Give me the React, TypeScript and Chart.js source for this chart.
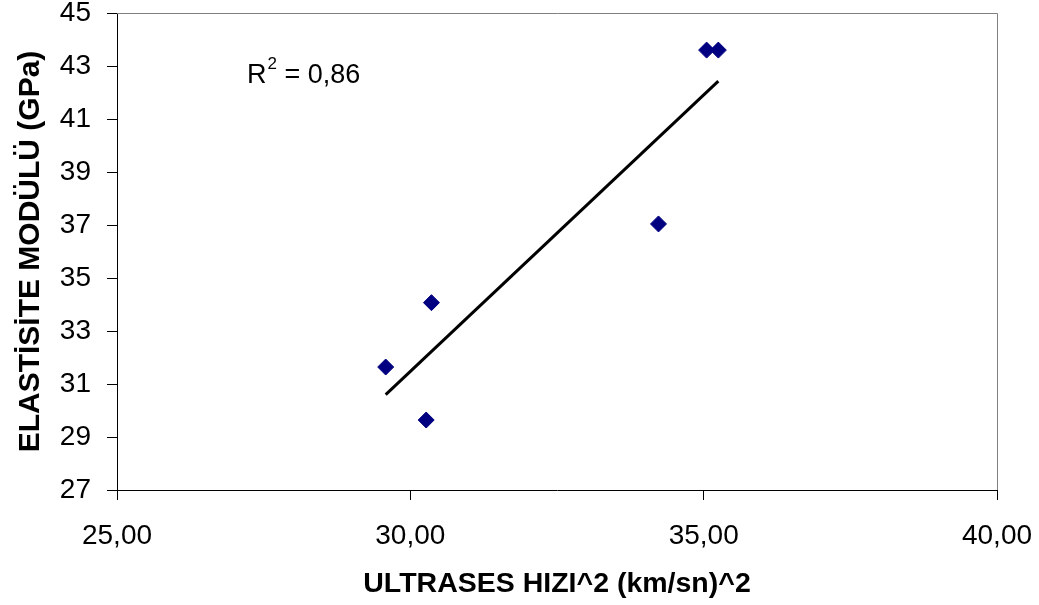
import React, { useEffect, useRef } from "react";
import { Chart, registerables } from "chart.js";

Chart.register(...registerables);

// Measured samples: squared ultrasonic velocity vs. modulus of elasticity
const ultrasesHizi2 = [29.58, 30.27, 30.36, 34.23, 35.05, 35.25];
const elastisiteModulu = [31.64, 29.64, 34.07, 37.04, 43.6, 43.6];

const xTicks = [25, 30, 35, 40];
const yTicks = [27, 29, 31, 33, 35, 37, 39, 41, 43, 45];

const xTitle = "ULTRASES HIZI^2 (km/sn)^2";
const yTitle = "ELASTİSİTE MODÜLÜ (GPa)";

const FONT = "'Liberation Sans', Arial, Helvetica, sans-serif";

// Least-squares fit for the trend line and its R²
function linearFit(xs: number[], ys: number[]) {
  const n = xs.length;
  const mx = xs.reduce((a, b) => a + b, 0) / n;
  const my = ys.reduce((a, b) => a + b, 0) / n;
  let sxy = 0, sxx = 0, syy = 0;
  for (let i = 0; i < n; i++) {
    sxy += (xs[i] - mx) * (ys[i] - my);
    sxx += (xs[i] - mx) ** 2;
    syy += (ys[i] - my) ** 2;
  }
  const slope = sxy / sxx;
  const intercept = my - slope * mx;
  const r2 = (sxy * sxy) / (sxx * syy);
  return { slope, intercept, r2 };
}

const fit = linearFit(ultrasesHizi2, elastisiteModulu);
const xMin = Math.min(...ultrasesHizi2);
const xMax = Math.max(...ultrasesHizi2);
const trendPoints = [
  { x: xMin, y: fit.slope * xMin + fit.intercept },
  { x: xMax, y: fit.slope * xMax + fit.intercept },
];
const r2Text = " = " + fit.r2.toFixed(2).replace(".", ",");

// Grey frame on the top and right of the plot area
const framePlugin = {
  id: "plotFrame",
  beforeDatasetsDraw(chart: any) {
    const { ctx, chartArea } = chart;
    ctx.save();
    ctx.strokeStyle = "#808080";
    ctx.lineWidth = 1;
    ctx.beginPath();
    ctx.moveTo(chartArea.left, chartArea.top + 0.5);
    ctx.lineTo(chartArea.right + 0.5, chartArea.top + 0.5);
    ctx.lineTo(chartArea.right + 0.5, chartArea.bottom);
    ctx.stroke();
    ctx.restore();
  },
};

// R² annotation with superscript
const r2Plugin = {
  id: "r2Label",
  afterDatasetsDraw(chart: any) {
    const { ctx, chartArea } = chart;
    const x = chartArea.left + 130;
    const y = chartArea.top + 70;
    ctx.save();
    ctx.fillStyle = "#000";
    ctx.textBaseline = "alphabetic";
    ctx.textAlign = "left";
    ctx.font = `27px ${FONT}`;
    ctx.fillText("R", x, y);
    const rw = ctx.measureText("R").width;
    ctx.font = `17px ${FONT}`;
    ctx.fillText("2", x + rw + 1, y - 14);
    const sw = ctx.measureText("2").width;
    ctx.font = `27px ${FONT}`;
    ctx.fillText(r2Text, x + rw + sw + 1, y);
    ctx.restore();
  },
};

export default function App() {
  const canvasRef = useRef<HTMLCanvasElement | null>(null);

  useEffect(() => {
    if (!canvasRef.current) return;
    const chart = new Chart(canvasRef.current, {
      type: "scatter",
      data: {
        datasets: [
          {
            label: "Ölçüm",
            data: ultrasesHizi2.map((x, i) => ({ x, y: elastisiteModulu[i] })),
            pointStyle: "rectRot",
            pointRadius: 8,
            pointHoverRadius: 8,
            backgroundColor: "#000080",
            borderColor: "#000080",
            borderWidth: 1,
            showLine: false,
          },
          {
            label: "Doğrusal",
            data: trendPoints,
            showLine: true,
            borderColor: "#000",
            borderWidth: 3,
            pointRadius: 0,
            fill: false,
          },
        ],
      },
      options: {
        responsive: false,
        animation: false,
        layout: { padding: { top: 13, right: 42, left: 0, bottom: 0 } },
        plugins: {
          legend: { display: false },
          tooltip: { enabled: false },
        },
        scales: {
          x: {
            type: "linear",
            min: 25,
            max: 40,
            afterBuildTicks(scale: any) {
              scale.ticks = xTicks.map((v) => ({ value: v }));
            },
            afterFit(scale: any) {
              scale.height = 115;
              scale.paddingLeft = 0;
              scale.paddingRight = 0;
            },
            ticks: {
              font: { family: FONT, size: 28 },
              color: "#000",
              padding: 19,
              maxRotation: 0,
              callback: (v: any) => Number(v).toFixed(2).replace(".", ","),
            },
            grid: {
              drawOnChartArea: false,
              drawTicks: true,
              tickLength: 10,
              color: "#000",
            },
            border: { display: true, color: "#000", width: 1 },
            title: {
              display: true,
              text: xTitle,
              color: "#000",
              font: { family: FONT, size: 28.5, weight: "bold" },
              padding: { top: 0, bottom: 4 },
            },
          },
          y: {
            type: "linear",
            min: 27,
            max: 45,
            afterBuildTicks(scale: any) {
              scale.ticks = yTicks.map((v) => ({ value: v }));
            },
            afterFit(scale: any) {
              scale.width = 117;
              scale.paddingTop = 0;
              scale.paddingBottom = 0;
            },
            ticks: {
              font: { family: FONT, size: 28 },
              color: "#000",
              padding: 16,
              callback: (v: any) => String(v),
            },
            grid: {
              drawOnChartArea: false,
              drawTicks: true,
              tickLength: 10,
              color: "#000",
            },
            border: { display: true, color: "#000", width: 1 },
            title: {
              display: true,
              text: yTitle,
              color: "#000",
              font: { family: FONT, size: 30, weight: "bold" },
              padding: { top: 13, bottom: 0 },
            },
          },
        },
      },
      plugins: [framePlugin, r2Plugin],
    });
    return () => chart.destroy();
  }, []);

  return (
    <div style={{ position: "absolute", left: 0, top: 0, width: 1039, height: 605, background: "#fff" }}>
      <canvas ref={canvasRef} width={1039} height={605} style={{ display: "block" }} />
    </div>
  );
}
